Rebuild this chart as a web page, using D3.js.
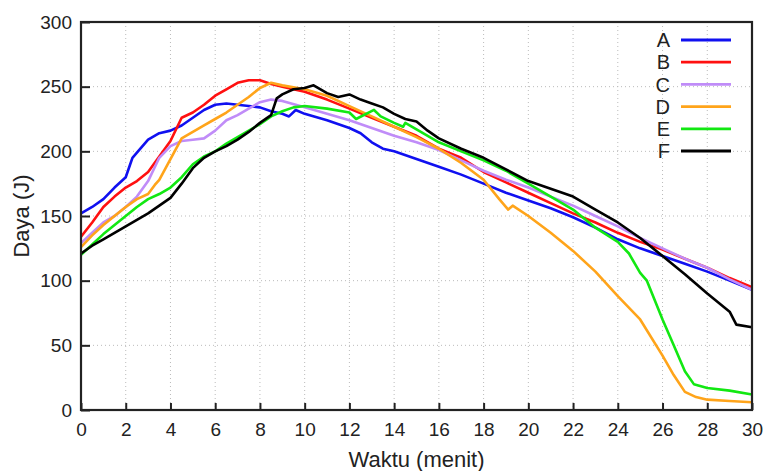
<!DOCTYPE html>
<html lang="id">
<head>
    <meta charset="UTF-8">
    <title>Daya vs Waktu</title>
    <script src="https://d3js.org/d3.v7.min.js"></script>
    <style>
        body {
            margin: 0;
            background: #fff;
            font-family: "Liberation Sans", Arial, sans-serif;
        }
        .tick text {
            font-family: "Liberation Sans", Arial, sans-serif;
            font-size: 19px;
            fill: #222;
        }
        .grid line {
            stroke: #bbb;
            stroke-width: 1px;
            stroke-dasharray: 1,3;
        }
        .series {
            fill: none;
            stroke-width: 2.6px;
            stroke-linejoin: round;
        }
    </style>
</head>
<body>
    <div id="chart"></div>
    <script>
        // series names and colours
        const seriesNames = ["A", "B", "C", "D", "E", "F"];
        const seriesColors = ["#1010f0", "#ff1010", "#c08cf8", "#ffa41a", "#12e812", "#000000"];

        // values: [minute, joule]
        const seriesA = [[0,152],[0.5,157],[1,163],[1.5,172],[2,180],[2.2,190],[2.3,195],[2.5,199],[3,209],[3.5,214],[4,216],[4.5,220],[5,226],[5.5,232],[6,236],[6.5,237],[7,236],[7.5,235],[8,234],[8.5,231],[9,229],[9.3,227],[9.6,232],[10,229],[11,224],[12,218],[12.5,214],[13,207],[13.5,202],[14,200],[15,194],[16,188],[17,182],[18,175],[19,168],[20,162],[21,156],[22,149],[23,141],[24,132],[25,125],[26,119],[27,113],[28,107],[29,100],[30,93]];
        const seriesB = [[0,134],[0.5,145],[1,157],[1.5,165],[2,172],[2.5,177],[3,184],[3.5,196],[4,208],[4.5,226],[5,230],[5.5,236],[6,243],[6.5,248],[7,253],[7.5,255],[8,255],[8.5,252],[9,250],[10,246],[11,240],[12,233],[13,226],[14,219],[15,212],[16,202],[17,195],[18,184],[19,176],[20,168],[21,160],[22,152],[23,145],[24,137],[25,130],[26,124],[27,117],[28,110],[29,102],[30,95]];
        const seriesC = [[0,129],[0.5,137],[1,145],[1.5,150],[2,157],[2.5,165],[3,177],[3.5,195],[4,204],[4.5,208],[5,209],[5.5,210],[6,216],[6.5,224],[7,228],[7.5,233],[8,238],[8.5,240],[9,239],[10,234],[11,229],[12,224],[13,218],[14,212],[15,207],[16,201],[17,193],[18,185],[19,178],[20,172],[21,165],[22,158],[23,150],[24,142],[25,133],[26,125],[27,117],[28,110],[29,101],[30,93]];
        const seriesD = [[0,126],[0.5,135],[1,143],[1.5,150],[2,157],[2.5,163],[3,167],[3.3,174],[3.5,178],[4,194],[4.5,210],[5,215],[5.5,220],[6,225],[6.5,230],[7,236],[7.5,242],[8,249],[8.5,253],[9,251],[10,248],[11,243],[12,235],[13,227],[14,219],[15,211],[16,202],[17,191],[18,178],[18.7,163],[19.1,155],[19.3,158],[20,150],[21,137],[22,123],[23,107],[24,88],[25,70],[26,42],[26.5,27],[27,14],[27.5,10],[28,8],[29,7],[30,6]];
        const seriesE = [[0,120],[0.5,128],[1,136],[1.5,143],[2,150],[2.5,157],[3,163],[3.5,167],[4,172],[4.5,180],[5,190],[5.5,196],[6,200],[6.5,206],[7,211],[7.5,216],[8,221],[8.5,227],[9,231],[9.5,234],[10,235],[11,233],[12,230],[12.3,225],[13.1,232],[13.4,227],[14,222],[14.4,219],[14.5,222],[15,217],[16,207],[17,200],[18,193],[19,185],[20,175],[21,165],[22,155],[23,141],[24,130],[24.5,121],[25,106],[25.3,100],[26,70],[26.5,50],[27,30],[27.4,20],[28,17],[29,15],[30,12]];
        const seriesF = [[0,121],[0.5,127],[1,132],[1.5,137],[2,142],[2.5,147],[3,152],[3.5,158],[4,164],[4.5,175],[5,187],[5.5,195],[6,200],[6.5,204],[7,209],[7.5,215],[8,222],[8.5,228],[8.75,241],[9,244],[9.5,248],[10,249],[10.4,251],[11,245],[11.5,242],[12,244],[12.5,240],[13,237],[13.5,234],[14,229],[14.5,225],[15,223],[15.5,216],[16,210],[17,202],[18,195],[19,186],[20,177],[21,171],[22,165],[23,155],[24,145],[25,133],[26,119],[27,105],[28,90],[29,76],[29.3,66],[30,64]];
        const allSeries = [seriesA, seriesB, seriesC, seriesD, seriesE, seriesF];

        const xTicks = d3.range(0, 31, 2);
        const yTicks = d3.range(0, 301, 50);

        const width = 766, height = 471;
        const margin = { top: 22, right: 14, bottom: 61, left: 81 };
        const innerW = width - margin.left - margin.right;
        const innerH = height - margin.top - margin.bottom;

        const svg = d3.select("#chart").append("svg")
            .attr("width", width)
            .attr("height", height);

        const g = svg.append("g")
            .attr("transform", `translate(${margin.left},${margin.top})`);

        const x = d3.scaleLinear().domain([0, 30]).range([0, innerW]);
        const y = d3.scaleLinear().domain([0, 300]).range([innerH, 0]);

        // dotted grid
        g.append("g").attr("class", "grid")
            .selectAll("line.v")
            .data(xTicks.filter(d => d > 0 && d < 30))
            .enter().append("line")
            .attr("x1", d => x(d)).attr("x2", d => x(d))
            .attr("y1", 0).attr("y2", innerH);
        g.append("g").attr("class", "grid")
            .selectAll("line.h")
            .data(yTicks.filter(d => d > 0 && d < 300))
            .enter().append("line")
            .attr("x1", 0).attr("x2", innerW)
            .attr("y1", d => y(d)).attr("y2", d => y(d));

        // lines
        const line = d3.line()
            .x(d => x(d[0]))
            .y(d => y(d[1]))
            .curve(d3.curveLinear);

        g.append("g").selectAll("path")
            .data(allSeries)
            .enter().append("path")
            .attr("class", "series")
            .attr("stroke", (d, i) => seriesColors[i])
            .attr("d", line);

        // axes (ticks pointing inward)
        const xAxis = g.append("g")
            .attr("transform", `translate(0,${innerH})`)
            .call(d3.axisBottom(x).tickValues(xTicks).tickSizeInner(-7).tickSizeOuter(0).tickPadding(13));
        const yAxis = g.append("g")
            .call(d3.axisLeft(y).tickValues(yTicks).tickSizeInner(-9).tickSizeOuter(0).tickPadding(9));
        [xAxis, yAxis].forEach(a => {
            a.select(".domain").remove();
            a.selectAll(".tick line").attr("stroke", "#222").attr("stroke-width", 2);
        });

        // frame
        g.append("rect")
            .attr("x", 0).attr("y", 0)
            .attr("width", innerW).attr("height", innerH)
            .attr("fill", "none")
            .attr("stroke", "#222")
            .attr("stroke-width", 2.2);

        // axis titles
        svg.append("text")
            .attr("x", margin.left + innerW / 2)
            .attr("y", 467)
            .attr("text-anchor", "middle")
            .attr("font-size", 22)
            .attr("fill", "#222")
            .text("Waktu (menit)");
        svg.append("text")
            .attr("transform", `translate(29,${margin.top + innerH / 2}) rotate(-90)`)
            .attr("text-anchor", "middle")
            .attr("font-size", 22)
            .attr("fill", "#222")
            .text("Daya (J)");

        // legend
        const legend = svg.append("g").attr("transform", "translate(0,40)");
        const item = legend.selectAll("g")
            .data(seriesNames)
            .enter().append("g")
            .attr("transform", (d, i) => `translate(0,${i * 22.2})`);
        item.append("text")
            .attr("x", 670)
            .attr("y", 0)
            .attr("dy", "0.36em")
            .attr("text-anchor", "end")
            .attr("font-size", 20)
            .attr("fill", "#222")
            .text(d => d);
        item.append("line")
            .attr("x1", 681).attr("x2", 731)
            .attr("y1", 0).attr("y2", 0)
            .attr("stroke", (d, i) => seriesColors[i])
            .attr("stroke-width", 2.8);
    </script>
</body>
</html>
